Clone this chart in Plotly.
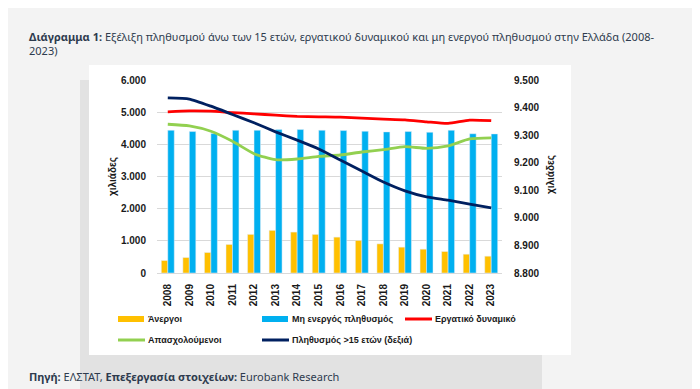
import plotly.graph_objects as go

years = [str(y) for y in range(2008, 2024)]
unemployed = [388, 481, 637, 887, 1200, 1325, 1272, 1200, 1115, 1012, 906, 803, 740, 668, 584, 522]
inactive = [4437, 4397, 4334, 4437, 4437, 4459, 4459, 4437, 4428, 4406, 4387, 4397, 4375, 4437, 4330, 4325]
labour_force = [5012, 5040, 5030, 4985, 4950, 4905, 4870, 4855, 4844, 4812, 4785, 4762, 4700, 4650, 4752, 4735]
employed = [4625, 4573, 4406, 4094, 3709, 3522, 3544, 3625, 3668, 3762, 3834, 3928, 3875, 3950, 4169, 4200]
population15 = [9435, 9431, 9405, 9375, 9345, 9312, 9282, 9250, 9210, 9170, 9130, 9098, 9076, 9064, 9050, 9036]

left_ticks = [0, 1000, 2000, 3000, 4000, 5000, 6000]
right_ticks = [8800, 8900, 9000, 9100, 9200, 9300, 9400, 9500]

C_UNEMP = "#FFC000"
C_INACT = "#00B0F0"
C_LF = "#FF0000"
C_EMP = "#92D050"
C_POP = "#002060"

# page body has an 8px margin; work in window pixels and shift
OFF = 8
W, H = 700 - OFF, 389 - OFF
L, R, T, B = 157 - OFF, 502 - OFF, 80 - OFF, 273 - OFF


def xp(px):
    return (px - OFF - L) / (R - L)


def yp(py):
    return (B - (py - OFF)) / (B - T)


fig = go.Figure()
fig.add_trace(go.Bar(x=years, y=unemployed, name="Άνεργοι", marker_color=C_UNEMP,
                     showlegend=False))
fig.add_trace(go.Bar(x=years, y=inactive, name="Μη ενεργός πληθυσμός", marker_color=C_INACT,
                     showlegend=False))
fig.add_trace(go.Scatter(x=years, y=labour_force, name="Εργατικό δυναμικό", mode="lines",
                         line=dict(color=C_LF, width=2.8, shape="spline", smoothing=0.6),
                         showlegend=False))
fig.add_trace(go.Scatter(x=years, y=employed, name="Απασχολούμενοι", mode="lines",
                         line=dict(color=C_EMP, width=2.8, shape="spline", smoothing=0.6),
                         showlegend=False))
fig.add_trace(go.Scatter(x=years, y=population15, name="Πληθυσμός >15 ετών (δεξιά)", mode="lines",
                         line=dict(color=C_POP, width=2.8, shape="spline", smoothing=0.5),
                         yaxis="y2", showlegend=False))

tick_font = dict(family="Liberation Sans", size=10, color="#1a1a1a", weight="bold")

fig.update_layout(
    width=W, height=H,
    margin=dict(l=L, r=W - R, t=T, b=H - B, pad=0),
    paper_bgcolor="#f3f3f3",
    plot_bgcolor="rgba(0,0,0,0)",
    separators=",.",
    barmode="group",
    bargap=0.4,
    bargroupgap=0,
    xaxis=dict(type="category", tickangle=-90, tickfont=tick_font, showgrid=False,
               showline=False, zeroline=False, ticks="outside", ticklen=6,
               tickcolor="rgba(0,0,0,0)"),
    yaxis=dict(range=[0, 6000], tickvals=left_ticks, tickformat=",d", tickfont=tick_font,
               showgrid=True, gridcolor="#d9d9d9", gridwidth=1, zeroline=True,
               zerolinecolor="#d9d9d9", zerolinewidth=1, ticks="outside", ticklen=8,
               tickcolor="rgba(0,0,0,0)", showline=False),
    yaxis2=dict(range=[8800, 9500], tickvals=right_ticks, tickformat=",d", tickfont=tick_font,
                overlaying="y", side="right", showgrid=False, zeroline=False,
                ticks="outside", ticklen=9, tickcolor="rgba(0,0,0,0)", showline=False),
)

shapes = [
    dict(type="rect", xref="paper", yref="paper", x0=xp(80), x1=xp(542), y0=yp(395), y1=yp(80),
         fillcolor="#e2e2e2", line=dict(width=0), layer="below"),
    dict(type="rect", xref="paper", yref="paper", x0=xp(89), x1=xp(571), y0=yp(355), y1=yp(65),
         fillcolor="#ffffff", line=dict(width=0), layer="below"),
]

annotations = []

# Titles / source
title_font = dict(family="Noto Sans", size=11, color="#2e3b4e")
annotations.append(dict(
    xref="paper", yref="paper", x=xp(27), y=yp(27), xanchor="left", yanchor="top",
    text="<b>Διάγραμμα 1:</b> Εξέλιξη πληθυσμού άνω των 15 ετών, εργατικού δυναμικού και μη ενεργού πληθυσμού στην Ελλάδα (2008-<br>2023)",
    showarrow=False, align="left", font=title_font))
annotations.append(dict(
    xref="paper", yref="paper", x=xp(27), y=yp(376), xanchor="left", yanchor="middle",
    text="<b>Πηγή:</b> ΕΛΣΤΑΤ, <b>Επεξεργασία στοιχείων:</b> Eurobank Research",
    showarrow=False, align="left", font=title_font))

# Axis titles
ax_font = dict(family="Liberation Sans", size=10, color="#1a1a1a", weight="bold")
annotations.append(dict(xref="paper", yref="paper", x=xp(113), y=yp(177), text="χιλιάδες",
                        textangle=-90, showarrow=False, font=ax_font,
                        xanchor="center", yanchor="middle"))
annotations.append(dict(xref="paper", yref="paper", x=xp(551), y=yp(175), text="χιλιάδες",
                        textangle=-90, showarrow=False, font=ax_font,
                        xanchor="center", yanchor="middle"))

# Manual legend
leg_font = dict(family="Liberation Sans", size=9, color="#1a1a1a", weight="bold")
legend_items = [
    ("Άνεργοι", C_UNEMP, "bar", 118, 319),
    ("Μη ενεργός πληθυσμός", C_INACT, "bar", 262, 319),
    ("Εργατικό δυναμικό", C_LF, "line", 405, 319),
    ("Απασχολούμενοι", C_EMP, "line", 118, 340),
    ("Πληθυσμός >15 ετών (δεξιά)", C_POP, "line", 262, 340),
]
for name, col, kind, x0, yc in legend_items:
    if kind == "bar":
        shapes.append(dict(type="rect", xref="paper", yref="paper", x0=xp(x0), x1=xp(x0 + 26),
                           y0=yp(yc + 3), y1=yp(yc - 3), fillcolor=col, line=dict(width=0)))
    else:
        shapes.append(dict(type="line", xref="paper", yref="paper", x0=xp(x0), x1=xp(x0 + 27),
                           y0=yp(yc), y1=yp(yc), line=dict(color=col, width=3)))
    annotations.append(dict(xref="paper", yref="paper", x=xp(x0 + 28), y=yp(yc), text=name,
                            xanchor="left", yanchor="middle", showarrow=False, font=leg_font))

fig.update_layout(shapes=shapes, annotations=annotations)
fig.write_html("out.html")
